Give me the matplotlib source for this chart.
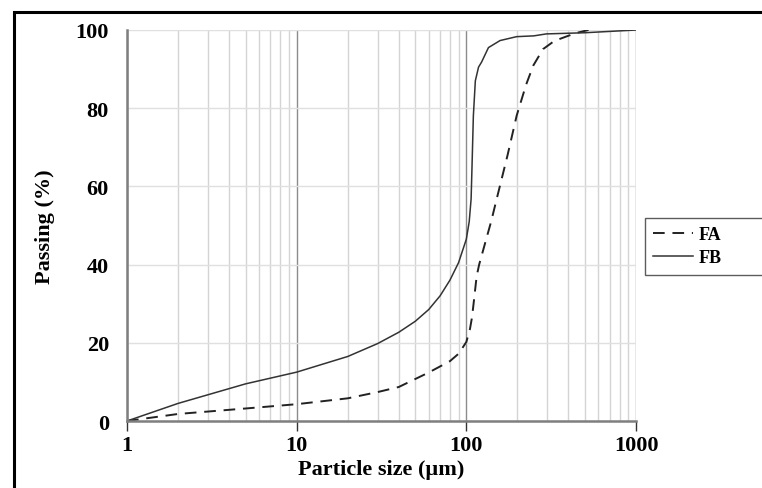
import matplotlib
matplotlib.use("Agg")
import matplotlib.pyplot as plt
from matplotlib.patches import Rectangle
from matplotlib.ticker import FixedLocator, NullFormatter

plt.rcParams['font.family'] = ['Liberation Serif', 'DejaVu Serif']
plt.rcParams['font.weight'] = 'bold'

# particle size (um) and passing (%)
fa_size = [1, 2, 5, 10, 20, 30, 40, 60, 80, 90, 100, 105, 108, 111, 115, 119,
           130, 140, 151, 175, 198, 225, 248, 283, 330, 392, 450, 525]
fa_pass = [0, 1.8, 3.2, 4.3, 5.8, 7.4, 8.7, 12.4, 15.3, 17.2, 20.2, 23.5, 26.5, 31, 37, 40,
           46, 51, 56.8, 68, 78.1, 86, 90.9, 95.1, 97.2, 98.4, 99.3, 100]
fb_size = [1, 2, 5, 10, 20, 30, 40, 50, 60, 70, 80, 90, 100, 104, 106.7, 108, 110,
           113, 118, 123, 135, 158, 198, 250, 296, 500, 1000]
fb_pass = [0, 4.5, 9.5, 12.5, 16.5, 19.8, 22.7, 25.5, 28.5, 32, 36, 40.5, 46.5, 51, 56.8, 65, 78,
           87, 90.5, 91.8, 95.5, 97.3, 98.3, 98.5, 99, 99.3, 100]

fig = plt.figure(figsize=(7.62, 4.89), dpi=100)
ax = fig.add_axes([127 / 762, 1 - 422 / 489, (636 - 127) / 762, (422 - 31) / 489])

ax.set_xscale('log')
ax.set_xlim(1, 1000)
ax.set_ylim(0, 100)

line_fa, = ax.plot(fa_size, fa_pass, color='#222222', lw=1.4, linestyle=(0, (6, 4)), label='FA')
line_fb, = ax.plot(fb_size, fb_pass, color='#333333', lw=1.1, label='FB')

# grid
ax.xaxis.set_major_locator(FixedLocator([1, 10, 100, 1000]))
ax.xaxis.set_minor_locator(FixedLocator([m * d for d in (1, 10, 100) for m in range(2, 10)]))
ax.xaxis.set_minor_formatter(NullFormatter())
ax.set_xticklabels(['1', '10', '100', '1000'])
ax.set_yticks([0, 20, 40, 60, 80, 100])
ax.grid(True, which='minor', axis='x', color='#d4d4d4', lw=1.0)
ax.grid(True, which='major', axis='x', color='#8c8c8c', lw=1.0)
ax.grid(True, which='major', axis='y', color='#e0e0e0', lw=1.0)
ax.set_axisbelow(True)

for side in ('top', 'right'):
    ax.spines[side].set_visible(False)
for side in ('left', 'bottom'):
    ax.spines[side].set_color('#7f7f7f')
    ax.spines[side].set_linewidth(1.8)

ax.tick_params(axis='x', which='major', direction='out', length=7, width=1, color='#333333',
               labelsize=16, pad=3)
ax.tick_params(axis='x', which='minor', length=0)
ax.tick_params(axis='y', length=0, labelsize=16, pad=13)

ax.set_xlabel('Particle size (\u00b5m)', fontsize=16, fontweight='bold')
ax.xaxis.set_label_coords(0.5, -(460 - 422) / 391)
ax.set_ylabel('Passing (%)', fontsize=16, fontweight='bold')
ax.yaxis.set_label_coords((55 - 127) / 509, 0.5)

fig.legend(handles=[line_fa, line_fb], loc='upper left', mode='expand',
           bbox_to_anchor=(645 / 762, 1 - 283 / 489, 140 / 762, 64 / 489),
           frameon=True, fancybox=False, edgecolor='#333333',
           prop={'weight': 'bold', 'size': 13}, handlelength=2.2, handletextpad=0.3,
           borderaxespad=0, borderpad=0.45, labelspacing=0.35)

# outer frame of the figure
fig.patches.append(Rectangle((14 / 762, -0.2), 1.2, 1.2 - 13 / 489, transform=fig.transFigure,
                             fill=False, edgecolor='black', lw=2.2, clip_on=False))

fig.savefig('out.png', dpi=100)
